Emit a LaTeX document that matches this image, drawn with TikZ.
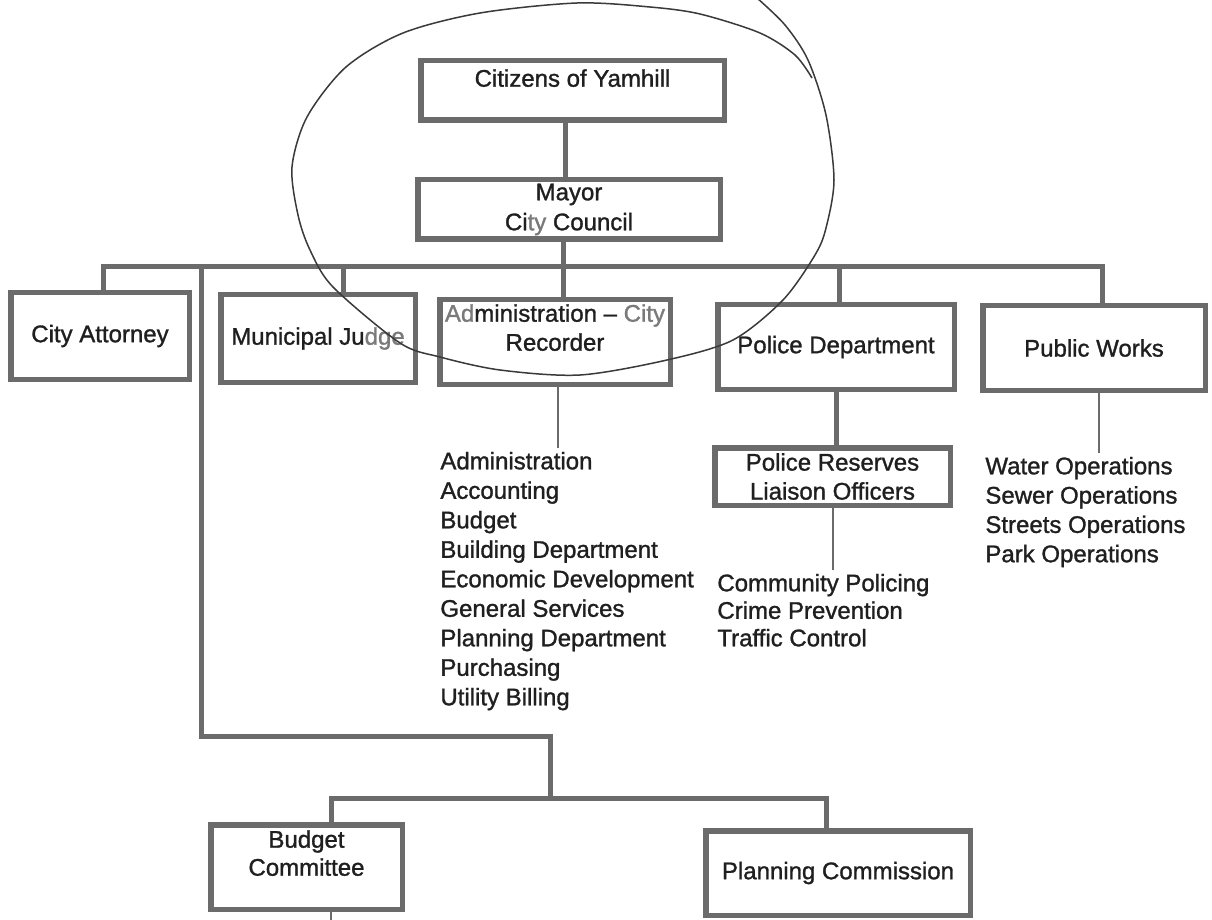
\documentclass[tikz,border=0pt]{standalone}
\usepackage{fontspec}
\setmainfont{Liberation Sans}[BoldFont=Liberation Sans, BoldFeatures={FakeBold=1.2}]
\definecolor{boxgray}{HTML}{6B6B6B}
\definecolor{inkgray}{HTML}{1F1F1F}
\definecolor{fadegray}{HTML}{7A7A7A}
\definecolor{pengray}{HTML}{3A3A3A}
\tikzset{
  unit/.style={draw=boxgray, line width=2.75pt, rectangle, align=center, text=inkgray,
    font=\fontsize{12}{14.5}\selectfont\bfseries, inner sep=0pt},
  conn/.style={draw=boxgray, line width=2.5pt},
  thinconn/.style={draw=boxgray, line width=1pt},
  duties/.style={align=left, anchor=north west, text=inkgray, inner xsep=0pt, inner ysep=2pt},
  penline/.style={draw=pengray, line width=0.75pt},
}
\begin{document}
\begin{tikzpicture}[x=0.5pt, y=-0.5pt, line join=miter]
\fill[white] (0,0) rectangle (1212,920);
\useasboundingbox (0,0) rectangle (1212,920);
% boxes
\node[unit, minimum width=151.75pt, minimum height=29.75pt] (cit) at (572.5,90.5) {Citizens of Yamhill\\[-2pt]\mbox{}};
\node[unit, minimum width=151.25pt, minimum height=29.75pt] (mayor) at (569,209.5) {Mayor\\[0.5pt]Ci\textcolor{fadegray}{ty} Council};
\node[unit, minimum width=89.25pt, minimum height=43.25pt] (atty) at (100,336) {City Attorney};
\node[unit, minimum width=97.25pt, minimum height=43.75pt] (judge) at (318,338.5) {Municipal Ju\textcolor{fadegray}{dge}};
\node[unit, minimum width=115.25pt, minimum height=42.25pt] (admin) at (555,342) {\textcolor{fadegray}{Ad}ministration – \textcolor{fadegray}{City}\\Recorder\\\mbox{}};
\node[unit, minimum width=118.25pt, minimum height=42.25pt] (police) at (836,347) {Police Department};
\node[unit, minimum width=111.25pt, minimum height=42.25pt] (works) at (1094,348) {Public Works};
\node[unit, minimum width=117.75pt, minimum height=28.75pt] (reserves) at (832.5,476.5) {Police Reserves\\Liaison Officers};
\node[unit, minimum width=95.75pt, minimum height=42.25pt] (budget) at (306.5,867) {Budget\\[-0.5pt]Committee\\[-0.5pt]\mbox{}};
\node[unit, minimum width=132.25pt, minimum height=42.25pt] (planning) at (838,873) {Planning Commission};
% duty lists
\node[duties, font=\fontsize{12}{14.75}\selectfont\bfseries] (admlist) at (440,447.5)
  {Administration\\Accounting\\Budget\\Building Department\\Economic Development\\General Services\\Planning Department\\Purchasing\\Utility Billing};
\node[duties, font=\fontsize{12}{13.75}\selectfont\bfseries] (pollist) at (717,569.5)
  {Community Policing\\Crime Prevention\\Traffic Control};
\node[duties, font=\fontsize{12}{14.65}\selectfont\bfseries] (pwlist) at (985,452.5)
  {Water Operations\\Sewer Operations\\Streets Operations\\Park Operations};
% connectors
\coordinate (bus) at (0,267);
\coordinate (trunk) at (201,267);
\coordinate (jog) at (550,736);
\coordinate (sub) at (550,798);
\coordinate (pageedge) at (0,920);
\draw[conn] ([xshift=-2pt]mayor.north) -- ([xshift=-2pt]mayor.north |- cit.south);
\draw[conn] ([xshift=1.5pt]atty.north) |- ([xshift=4pt]works.north |- bus) -- ([xshift=4pt]works.north);
\draw[conn] ([xshift=-3pt]mayor.south) -- ([xshift=-3pt]mayor.south |- admin.north);
\draw[conn] ([xshift=12.5pt]judge.north |- bus) -- ([xshift=12.5pt]judge.north);
\draw[conn] ([xshift=1.5pt]police.north |- bus) -- ([xshift=1.5pt]police.north);
\draw[conn] (police.south) -- (police.south |- reserves.north);
\draw[conn] (trunk) |- (jog) -- (sub);
\draw[conn] ([xshift=12.5pt]budget.north) |- (sub) -| ([xshift=-6pt]planning.north);
\draw[thinconn] ([xshift=1.5pt]admin.south) -- ([xshift=1.5pt]admin.south |- admlist.north);
\draw[thinconn] (reserves.south) -- (reserves.south |- pollist.north);
\draw[thinconn] ([xshift=2.5pt]works.south) -- ([xshift=2.5pt]works.south |- pwlist.north);
\draw[thinconn] ([xshift=12pt]budget.south) -- ([xshift=12pt]budget.south |- pageedge);
% pen ring round the top
\draw[penline] plot[smooth] coordinates {(757,-2) (785,25) (808,60) (826,115) (834,180) (826,228)
  (815,255) (783,300) (733,340) (667,360) (580,375) (500,370) (440,357) (400,343) (333,287)
  (310,250) (298,215) (292,167) (307,117) (346,67) (403,33) (480,13) (577,3) (650,7) (700,14)
  (760,33) (795,55) (812,78)};
\end{tikzpicture}
\end{document}
